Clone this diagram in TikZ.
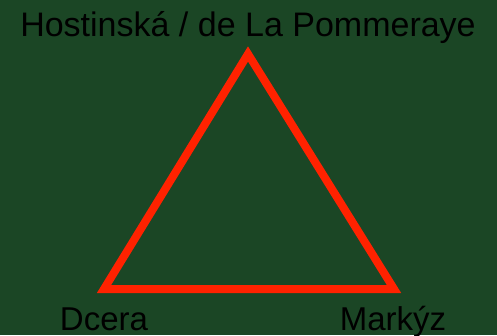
\documentclass[tikz,border=0pt]{standalone}
\usepackage{fontspec}
\setmainfont{Liberation Sans}
\definecolor{bg}{RGB}{27,70,37}
\definecolor{tri}{RGB}{255,34,0}
\begin{document}
\begin{tikzpicture}[x=1pt,y=-1pt,
  lbl/.style={anchor=base,inner sep=0pt,font=\fontsize{33}{36}\selectfont,text=black},
  edge/.style={draw=tri,line width=8pt,line join=miter}]
\fill[bg] (0,0) rectangle (497,335);
\useasboundingbox (0,0) rectangle (497,335);
\coordinate (A) at (248,54);
\coordinate (B) at (104,289);
\coordinate (C) at (394,289);
\draw[edge] (A) -- (B) -- (C) -- cycle;
\node[lbl,font=\fontsize{34}{38}\selectfont] (top) at (248,36) {Hostinská / de La Pommeraye};
\node[lbl] (d) at (104,330) {Dcera};
\node[lbl] (m) at (393,330) {Markýz};
\end{tikzpicture}
\end{document}
